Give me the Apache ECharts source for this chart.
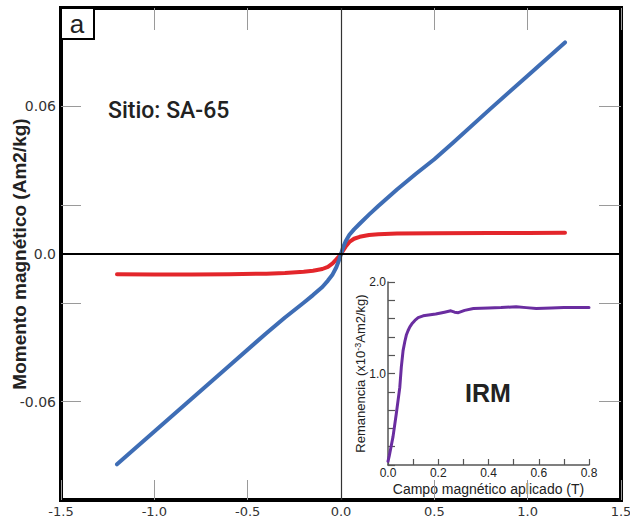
<!DOCTYPE html>
<html>
<head>
<meta charset="utf-8">
<script src="https://cdn.jsdelivr.net/npm/echarts@6/dist/echarts.min.js"></script>
<style>html,body{margin:0;padding:0;background:#fff}#c{width:630px;height:527px}</style>
</head>
<body>
<div id="c"></div>
<script>
// Hysteresis loop (main panel) — field H (T), moment M (Am2/kg)
var blueH = [-1.2,-1.0,-0.8,-0.6,-0.4,-0.3,-0.2,-0.15,-0.1,-0.07,-0.045,-0.025,-0.01,0,0.01,0.025,0.045,0.07,0.1,0.15,0.2,0.3,0.4,0.5,0.6,0.8,1.0,1.2];
var blueM = [-0.0855,-0.0722,-0.0588,-0.0455,-0.0322,-0.0258,-0.0198,-0.0167,-0.0134,-0.0108,-0.0083,-0.0054,-0.0024,0,0.0024,0.0052,0.0078,0.0100,0.0123,0.0160,0.0195,0.0262,0.0325,0.0385,0.0452,0.0590,0.0725,0.0860];
var redH = [-1.2,-1.0,-0.8,-0.6,-0.4,-0.3,-0.2,-0.15,-0.1,-0.07,-0.045,-0.025,-0.01,0,0.01,0.025,0.045,0.07,0.1,0.15,0.2,0.3,0.5,0.8,1.0,1.2];
var redM = [-0.0082,-0.0083,-0.0083,-0.0082,-0.0080,-0.0077,-0.0072,-0.0068,-0.0061,-0.0052,-0.0038,-0.0022,-0.0009,0,0.0012,0.0030,0.0049,0.0062,0.0070,0.0077,0.0080,0.0083,0.0084,0.0085,0.0085,0.0086];
// IRM inset — applied field (T), remanence (x10^-3 Am2/kg)
var irmH = [0.0,0.005,0.01,0.02,0.033,0.047,0.053,0.06,0.067,0.073,0.08,0.087,0.097,0.107,0.12,0.14,0.19,0.225,0.25,0.265,0.28,0.305,0.34,0.4,0.45,0.51,0.55,0.59,0.65,0.7,0.75,0.8];
var irmM = [0.04,0.10,0.17,0.31,0.56,0.85,1.07,1.25,1.35,1.42,1.47,1.51,1.55,1.58,1.61,1.63,1.65,1.67,1.685,1.67,1.665,1.69,1.71,1.715,1.72,1.73,1.72,1.71,1.715,1.72,1.72,1.72];
// Tick labels
var mainYTickMarks = [-0.06,-0.02,0.02,0.06];
var mainYLabels = [-0.06,0,0.06];
var insetXLabels = [0,0.2,0.4,0.6,0.8];
var insetYLabels = [1.0,2.0];

function pairs(a,b){return a.map(function(v,i){return [v,b[i]];});}

var chart = echarts.init(document.getElementById('c'), null, {renderer:'svg'});
var tickStyle = {color:'#9a9a9a', width:1};
var font = '"DejaVu Sans", sans-serif';
var insetFont = '"Liberation Sans", Arial, sans-serif';
chart.setOption({
  animation:false,
  backgroundColor:'#fff',
  grid:[
    {left:61, top:8, right:9, bottom:27, show:true, borderColor:'#000', borderWidth:4, backgroundColor:'transparent', containLabel:false, outerBoundsMode:'none'},
    {left:388, top:282, width:201, height:183, containLabel:false, outerBoundsMode:'none'}
  ],
  xAxis:[
    {type:'value', gridIndex:0, min:-1.5, max:1.5, interval:0.5, position:'bottom',
     axisLine:{show:false, onZero:false}, splitLine:{show:false},
     axisTick:{inside:true, length:20, lineStyle:tickStyle},
     axisLabel:{fontFamily:font, fontSize:13, color:'#333', margin:5, formatter:function(v){return v.toFixed(1);}}},
    {type:'value', gridIndex:0, min:-1.5, max:1.5, interval:0.5, position:'top',
     axisLine:{show:false, onZero:false}, splitLine:{show:false},
     axisTick:{inside:true, length:22, lineStyle:tickStyle}, axisLabel:{show:false}},
    {type:'value', gridIndex:1, min:0, max:0.8, interval:0.1,
     axisLine:{show:true, onZero:false, lineStyle:{color:'#555', width:1.5}}, splitLine:{show:false},
     axisTick:{inside:true, length:6, lineStyle:{color:'#555', width:1.2}},
     axisLabel:{customValues:insetXLabels, fontFamily:insetFont, fontSize:12, color:'#222', margin:2,
       formatter:function(v){return v.toFixed(1);}},
     name:'Campo magnético aplicado (T)', nameLocation:'middle', nameGap:17, nameMoveOverlap:false,
     nameTextStyle:{fontFamily:insetFont, fontSize:14, color:'#222'}}
  ],
  yAxis:[
    {type:'value', gridIndex:0, min:-0.1, max:0.1, interval:0.02, position:'left',
     axisLine:{show:false, onZero:false}, splitLine:{show:false},
     axisTick:{customValues:mainYTickMarks, inside:true, length:20, lineStyle:tickStyle},
     axisLabel:{customValues:mainYLabels, fontFamily:font, fontSize:14, color:'#333', margin:5,
       formatter:function(v){return v===0?'0.0':v.toFixed(2);}},
     name:'Momento magnético (Am2/kg)', nameLocation:'middle', nameGap:32, nameMoveOverlap:false,
     nameTextStyle:{fontFamily:insetFont, fontWeight:'bold', fontSize:19, color:'#222'}},
    {type:'value', gridIndex:0, min:-0.1, max:0.1, interval:0.02, position:'right',
     axisLine:{show:false, onZero:false}, splitLine:{show:false},
     axisTick:{customValues:mainYTickMarks, inside:true, length:22, lineStyle:tickStyle},
     axisLabel:{show:false}},
    {type:'value', gridIndex:1, min:0, max:2, interval:0.2,
     axisLine:{show:true, onZero:false, lineStyle:{color:'#555', width:1.5}}, splitLine:{show:false},
     axisTick:{inside:true, length:7, lineStyle:{color:'#555', width:1.2}},
     axisLabel:{customValues:insetYLabels, fontFamily:insetFont, fontSize:12, color:'#222', margin:2,
       formatter:function(v){return v.toFixed(1);}},
     name:'Remanencia (x10{sup|-3}Am2/kg)', nameLocation:'middle', nameGap:20, nameMoveOverlap:false,
     nameTextStyle:{fontFamily:insetFont, fontSize:13, color:'#222',
       rich:{sup:{fontFamily:insetFont, fontSize:9, color:'#222', verticalAlign:'top', padding:[0,0,6,0]}}}}
  ],
  series:[
    {type:'line', xAxisIndex:0, yAxisIndex:0, data:[[0,0]], showSymbol:false, lineStyle:{width:0}, z:1, silent:true,
     markLine:{silent:true, symbol:['none','none'], label:{show:false},
       data:[{xAxis:0, lineStyle:{color:'#333', width:1.2, type:'solid'}},
             {yAxis:0, lineStyle:{color:'#000', width:2, type:'solid'}}]}},
    {type:'line', xAxisIndex:0, yAxisIndex:0, data:pairs(redH,redM), showSymbol:false, smooth:false,
     lineStyle:{color:'#e3262b', width:4, cap:'round', join:'round'}, z:3},
    {type:'line', xAxisIndex:0, yAxisIndex:0, data:pairs(blueH,blueM), showSymbol:false, smooth:false,
     lineStyle:{color:'#3e6db5', width:4, cap:'round', join:'round'}, z:4},
    {type:'line', xAxisIndex:2, yAxisIndex:2, data:pairs(irmH,irmM), showSymbol:false, smooth:false,
     lineStyle:{color:'#6a2da0', width:3, cap:'round', join:'round'}, z:4}
  ],
  graphic:[
    {type:'rect', shape:{x:61, y:8, width:33, height:31}, style:{fill:'#fff', stroke:'#000', lineWidth:2}, z:10},
    {type:'text', x:77, y:24, style:{text:'a', font:'26px "Liberation Sans"', fill:'#222', align:'center', verticalAlign:'middle'}, z:11},
    {type:'text', x:108, y:110, style:{text:'Sitio: SA-65', font:'500 23px Roboto', fill:'#222', align:'left', verticalAlign:'middle'}, z:11},
    {type:'text', x:488, y:393, style:{text:'IRM', font:'bold 25px "Liberation Sans"', fill:'#222', align:'center', verticalAlign:'middle'}, z:11}
  ]
});
</script>
</body>
</html>
